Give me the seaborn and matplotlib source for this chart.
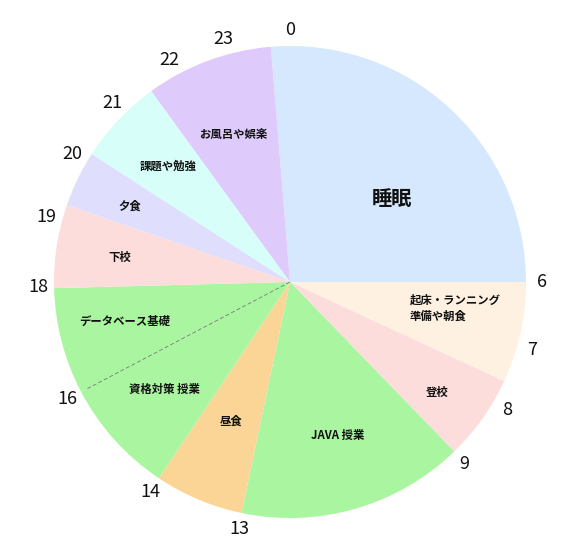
import matplotlib
matplotlib.use('Agg')
import matplotlib.pyplot as plt
import numpy as np
import seaborn as sns

# daily schedule, clockwise from just before midnight (hours)
activities = ['睡眠', '起床・ランニング\n準備や朝食', '登校', 'JAVA 授業', '昼食',
              '資格対策 授業', 'データベース基礎', '下校', '夕食', '課題や勉強', 'お風呂や娯楽']
durations = [6.31, 1.66, 1.40, 3.73, 1.46, 1.90, 1.75, 1.37, 0.92, 1.41, 2.09]
start_hour = -0.31
colors = ['#d6e8fd', '#fef1e1', '#fddcdc', '#aaf6a0', '#fad595', '#aaf6a0',
          '#aaf6a0', '#fddcdc', '#dfdffd', '#d7fef8', '#dfcafc']

# clock labels around the rim
hour_labels = ['6', '7', '8', '9', '13', '14', '16', '18', '19', '20', '21', '22', '23', '0']
hour_at = [6.0, 7.05, 8.03, 9.08, 12.78, 14.25, 16.15, 17.92, 19.0, 20.03, 21.02, 22.1, 22.97, 0.0]

# where the activity names sit (hour angle, fraction of radius)
text_hour = [3.37, 6.6, 8.45, 10.85, 13.52, 15.3, 17.1, 18.55, 19.7, 20.9, 22.6]
text_r = [0.56, 0.71, 0.78, 0.68, 0.64, 0.70, 0.72, 0.73, 0.75, 0.71, 0.67]


def clock_xy(h, r):
    th = np.deg2rad(90 - h * 15)
    return r * np.cos(th), r * np.sin(th)


sns.set_theme(style='white')
plt.rcParams['font.family'] = ['Noto Sans CJK JP', 'DejaVu Sans']

fig = plt.figure(figsize=(5.78, 5.5), dpi=100)
ax = fig.add_axes([0, 0, 1, 1])

R = 236.0
ax.pie(durations, colors=colors, startangle=90 - start_hour * 15, counterclock=False,
       radius=1, wedgeprops=dict(linewidth=0))

# faint divider between the two same-coloured class wedges
split = start_hour + sum(durations[:6])
x, y = clock_xy(split, 0.97)
ax.plot([0, x], [0, y], color='#666666', lw=0.5, ls=(0, (6, 3)))

for name, h, r in zip(activities, text_hour, text_r):
    x, y = clock_xy(h, r)
    big = name == '睡眠'
    ax.text(x, y, name, ha='center', va='center', multialignment='left',
            fontsize=14.5 if big else 8.2, fontweight='bold', color='#111111',
            linespacing=1.35)

for lab, h in zip(hour_labels, hour_at):
    x, y = clock_xy(h, 1.068)
    ax.text(x, y, lab, ha='center', va='center', fontsize=13, color='#111111')

ax.set_xlim(-290 / R, 288 / R)
ax.set_ylim(-268 / R, 282 / R)
ax.axis('off')

fig.savefig('out.png', dpi=100)
